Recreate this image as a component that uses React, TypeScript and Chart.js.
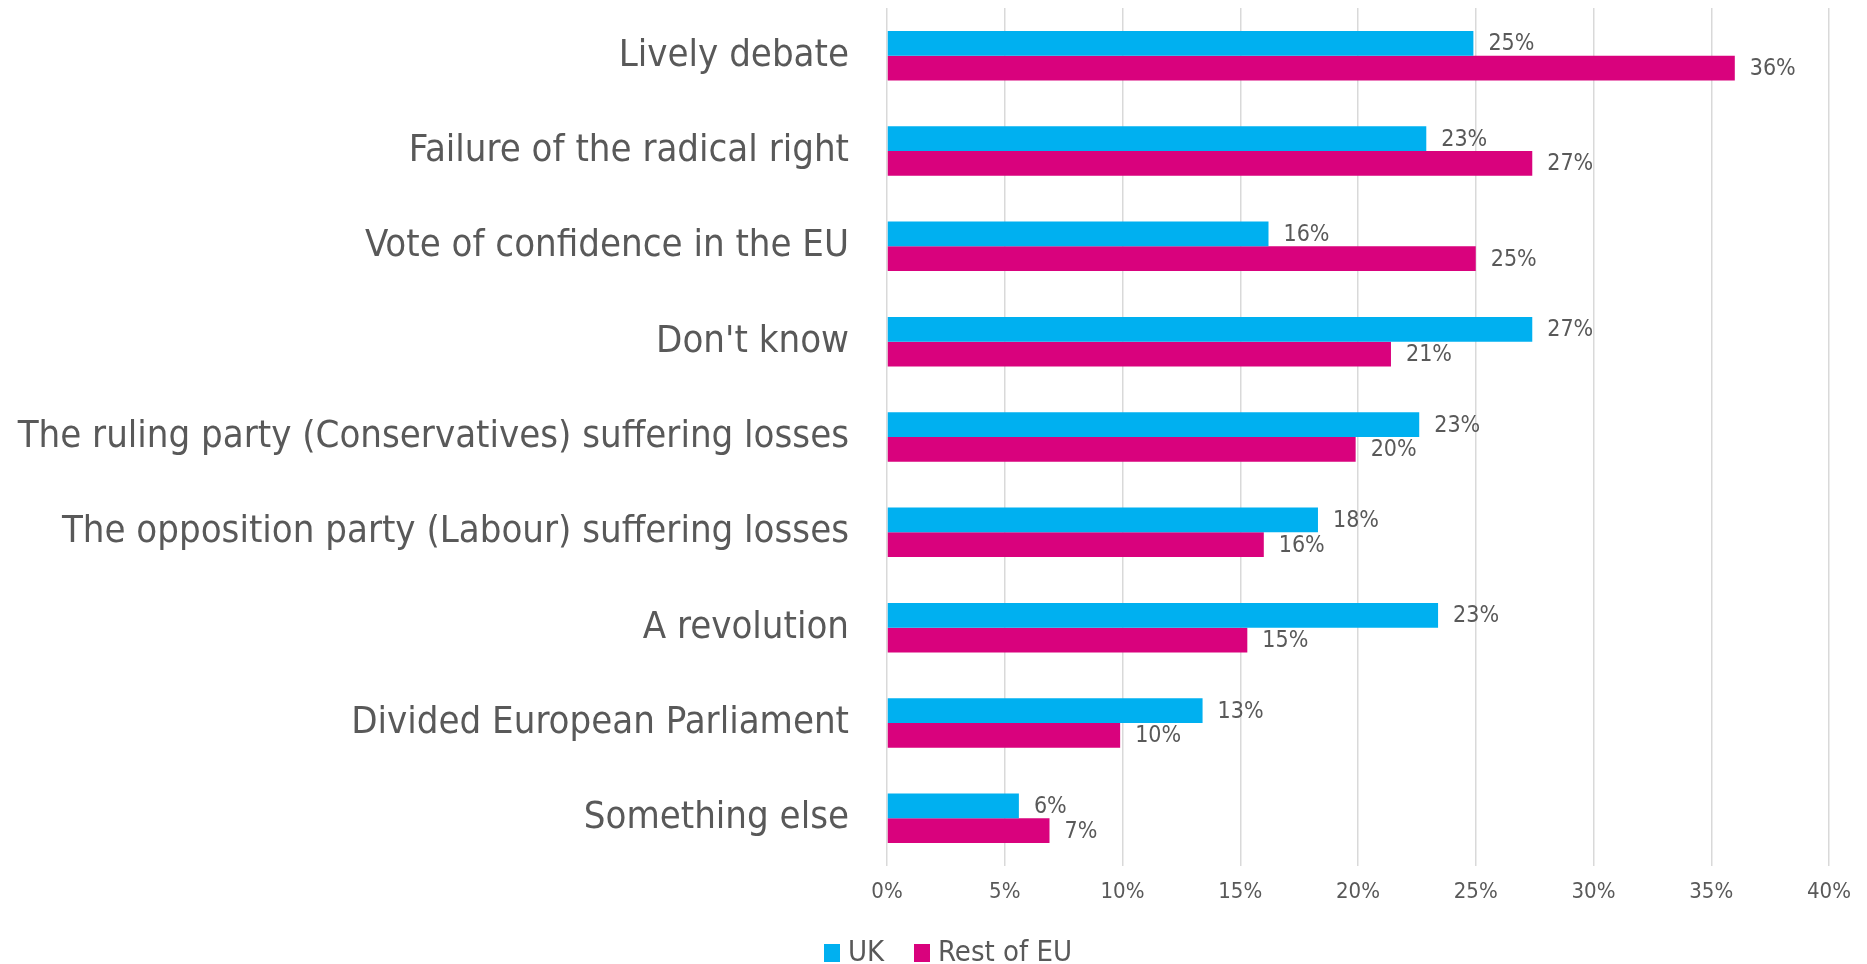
import React, { useEffect, useRef } from "react";
import { Chart, registerables } from "chart.js";

Chart.register(...registerables);

const categories = [
  "Lively debate",
  "Failure of the radical right",
  "Vote of confidence in the EU",
  "Don't know",
  "The ruling party (Conservatives) suffering losses",
  "The opposition party (Labour) suffering losses",
  "A revolution",
  "Divided European Parliament",
  "Something else",
];
const ukValues = [24.9, 22.9, 16.2, 27.4, 22.6, 18.3, 23.4, 13.4, 5.6];
const euValues = [36.0, 27.4, 25.0, 21.4, 19.9, 16.0, 15.3, 9.9, 6.9];
const seriesNames = ["UK", "Rest of EU"];
const tickValues = [0, 5, 10, 15, 20, 25, 30, 35, 40];

const FONT = "'Liberation Sans Narrow', 'DejaVu Sans Condensed', 'Roboto', sans-serif";
const TEXT = "#595959";
const UK_COLOR = "#00B0F0";
const EU_COLOR = "#D9027D";

const dataLabels = {
  id: "dataLabels",
  afterDatasetsDraw(chart: any) {
    const ctx = chart.ctx;
    ctx.save();
    ctx.font = `23px ${FONT}`;
    ctx.fillStyle = TEXT;
    ctx.textAlign = "left";
    ctx.textBaseline = "middle";
    chart.data.datasets.forEach((ds: any, i: number) => {
      const meta = chart.getDatasetMeta(i);
      meta.data.forEach((el: any, j: number) => {
        ctx.fillText(`${Math.round(ds.data[j])}%`, el.x + 15, el.y + 1);
      });
    });
    ctx.restore();
  },
};

const customLegend = {
  id: "customLegend",
  afterDraw(chart: any) {
    const ctx = chart.ctx;
    ctx.save();
    ctx.font = `29px ${FONT}`;
    ctx.textBaseline = "middle";
    ctx.textAlign = "left";
    const colors = [UK_COLOR, EU_COLOR];
    const boxX = [824, 914];
    seriesNames.forEach((name, i) => {
      ctx.fillStyle = colors[i];
      ctx.fillRect(boxX[i], 944, 16, 18);
      ctx.fillStyle = TEXT;
      ctx.fillText(name, boxX[i] + 24, 953);
    });
    ctx.restore();
  },
};

export default function App() {
  const ref = useRef<HTMLCanvasElement>(null);
  useEffect(() => {
    document.body.style.margin = "0";
    const chart = new Chart(ref.current!, {
      type: "bar",
      data: {
        labels: categories,
        datasets: [
          { label: seriesNames[0], data: ukValues, backgroundColor: UK_COLOR, categoryPercentage: 0.52, barPercentage: 1 },
          { label: seriesNames[1], data: euValues, backgroundColor: EU_COLOR, categoryPercentage: 0.52, barPercentage: 1 },
        ],
      },
      options: {
        indexAxis: "y",
        responsive: false,
        animation: false,
        layout: { padding: { top: 8, right: 38, left: 0, bottom: 0 } },
        plugins: { legend: { display: false }, tooltip: { enabled: false } },
        scales: {
          x: {
            min: 0,
            max: 40,
            afterBuildTicks(scale: any) {
              scale.ticks = tickValues.map((v) => ({ value: v }));
            },
            afterFit(scale: any) {
              scale.height = 98;
              scale.paddingLeft = 0;
              scale.paddingRight = 0;
            },
            grid: { color: "#D9D9D9", lineWidth: 1.5, drawTicks: false },
            border: { display: false },
            ticks: {
              padding: 13,
              color: TEXT,
              font: { family: FONT, size: 22 },
              callback: (v: any) => `${v}%`,
            },
          },
          y: {
            afterFit(scale: any) {
              scale.width = 887;
              scale.paddingTop = 0;
              scale.paddingBottom = 0;
            },
            grid: { display: false, drawTicks: false },
            border: { display: false },
            ticks: {
              padding: 38,
              color: TEXT,
              font: { family: FONT, size: 38 },
            },
          },
        },
      },
      plugins: [dataLabels, customLegend],
    });
    return () => chart.destroy();
  }, []);
  return (
    <div style={{ position: "absolute", left: 0, top: 0, width: 1867, height: 964, overflow: "hidden", background: "#fff" }}>
      <canvas ref={ref} width={1867} height={964} style={{ width: 1867, height: 964, display: "block" }} />
    </div>
  );
}
